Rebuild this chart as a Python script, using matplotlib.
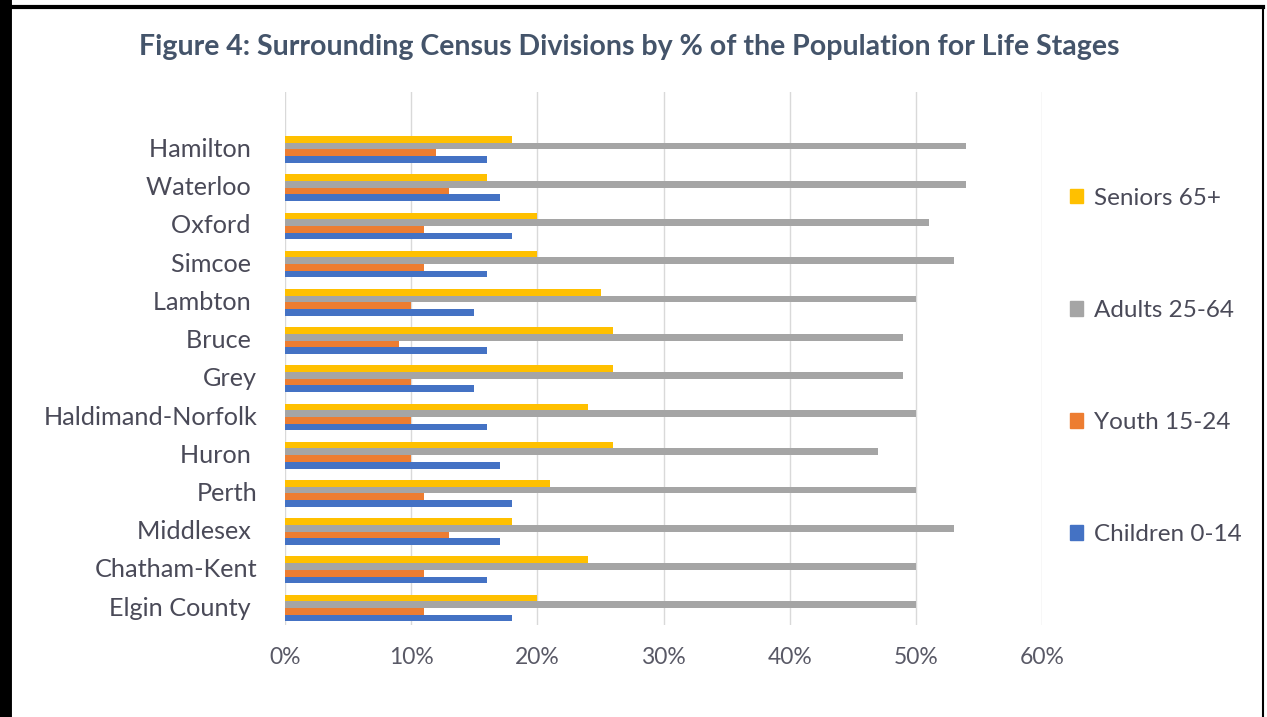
import numpy as np
import matplotlib
matplotlib.use('Agg')
import matplotlib.pyplot as plt
from matplotlib.ticker import FuncFormatter
from matplotlib.patches import Patch

# Census divisions (bottom to top, as Excel draws them)
divisions = ['Elgin County ', 'Chatham-Kent', 'Middlesex ', 'Perth', 'Huron ',
             'Haldimand-Norfolk', 'Grey', 'Bruce ', 'Lambton ', 'Simcoe ',
             'Oxford ', 'Waterloo ', 'Hamilton ']

# % of population per life stage
children = [18, 16, 17, 18, 17, 16, 15, 16, 15, 16, 18, 17, 16]
youth = [11, 11, 13, 11, 10, 10, 10, 9, 10, 11, 11, 13, 12]
adults = [50, 50, 53, 50, 47, 50, 49, 49, 50, 53, 51, 54, 54]
seniors = [20, 24, 18, 21, 26, 24, 26, 26, 25, 20, 20, 16, 18]

series_names = ['Children 0-14', 'Youth 15-24', 'Adults 25-64', 'Seniors 65+']
colors = ['#4472C4', '#ED7D31', '#A5A5A5', '#FFC000']

plt.rcParams['font.family'] = ['Lato', 'DejaVu Sans']

fig = plt.figure(figsize=(12.67, 7.17), dpi=100)
ax = fig.add_axes([0.225, 0.128, 0.5975, 0.7435])

y = np.arange(len(divisions))
h = 0.175
all_series = [children, youth, adults, seniors]
for i, (vals, c, name) in enumerate(zip(all_series, colors, series_names)):
    ax.barh(y + (i - 1.5) * h - 0.05, vals, height=h, color=c, label=name, zorder=3)

ax.set_xlim(0, 60)
ax.set_ylim(-0.5, 13.45)
ax.set_xticks(range(0, 61, 10))
ax.xaxis.set_major_formatter(FuncFormatter(lambda v, p: f'{v:.0f}%'))
ax.set_yticks(y)
ax.set_yticklabels(divisions)
ax.grid(axis='x', color='#D9D9D9', linewidth=1, zorder=0)
for s in ax.spines.values():
    s.set_visible(False)
ax.tick_params(axis='x', length=0, pad=16, labelsize=16.5, labelcolor='#595966')
ax.tick_params(axis='y', length=0, pad=20, labelsize=18.2, labelcolor='#4A4A58')

fig.text(0.497, 0.935, 'Figure 4: Surrounding Census Divisions by % of the Population for Life Stages',
         ha='center', va='center', fontsize=20.5, fontweight='bold', color='#44546A')

handles = [Patch(color=c, label=n) for c, n in zip(colors[::-1], series_names[::-1])]
fig.legend(handles=handles, loc='center left', bbox_to_anchor=(0.827, 0.489),
           frameon=False, fontsize=17.5, labelcolor='#4A4A58',
           handlelength=0.55, handleheight=0.55, handletextpad=0.45, labelspacing=3.75)

# black frame like the scanned figure
fig.add_artist(plt.Line2D([0.004, 0.004], [0, 0.992], color='black', linewidth=10, transform=fig.transFigure))
fig.add_artist(plt.Line2D([0, 0.997], [0.990, 0.990], color='black', linewidth=3, transform=fig.transFigure))
fig.add_artist(plt.Line2D([0.997, 0.997], [0, 0.990], color='black', linewidth=1.5, transform=fig.transFigure))

fig.savefig('out.png', dpi=100)
